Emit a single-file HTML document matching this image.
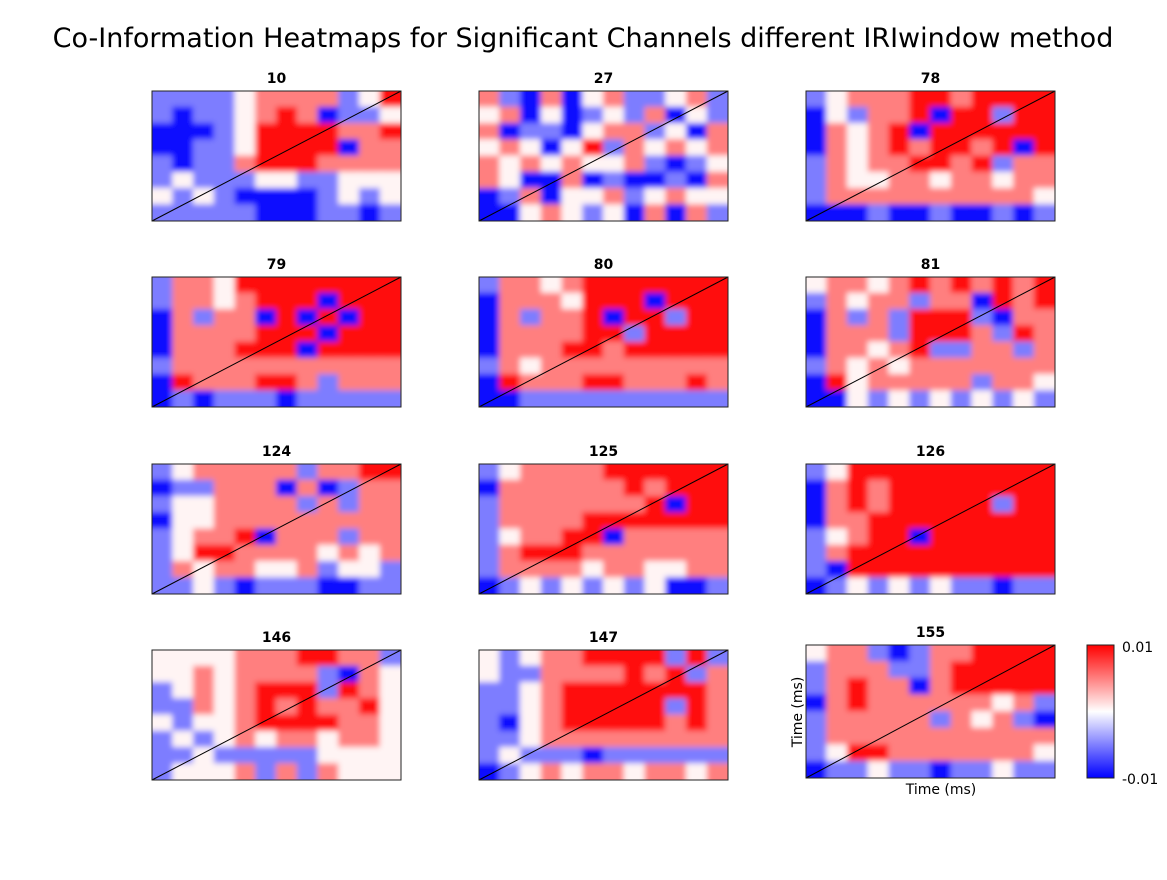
<!DOCTYPE html>
<html><head><meta charset="utf-8">
<style>
body{margin:0;background:#fff;width:1167px;height:875px;overflow:hidden;font-family:"Liberation Sans",sans-serif}
</style></head>
<body>
<svg id="fig" width="1167" height="875" xmlns="http://www.w3.org/2000/svg">
<defs>
<filter id="bl" x="-10%" y="-10%" width="120%" height="120%"><feGaussianBlur stdDeviation="3"/></filter>
<linearGradient id="cbg" x1="0" y1="1" x2="0" y2="0">
<stop offset="0" stop-color="#0000ff"/><stop offset="0.5" stop-color="#ffffff"/><stop offset="1" stop-color="#ff0000"/>
</linearGradient>
</defs>
<text x="583" y="47" text-anchor="middle" font-size="27" font-family="DejaVu Sans, sans-serif">Co-Information Heatmaps for Significant Channels different IRIwindow method</text>
<g id="panels"></g>
<rect x="1087" y="645" width="27" height="133" fill="url(#cbg)" stroke="#222" stroke-width="1"/>
<text x="1122" y="652" font-size="14" font-family="DejaVu Sans, sans-serif">0.01</text>
<text x="1122" y="784" font-size="14" font-family="DejaVu Sans, sans-serif">-0.01</text>
<text x="941" y="794" text-anchor="middle" font-size="14" font-family="DejaVu Sans, sans-serif">Time (ms)</text>
<text x="0" y="0" transform="translate(802,712) rotate(-90)" text-anchor="middle" font-size="14" font-family="DejaVu Sans, sans-serif">Time (ms)</text>
</svg>
<script>
const channels=["10","27","78","79","80","81","124","125","126","146","147","155"];
const p10=[[-1,-1,-1,-1,0,1,1,1,1,-1,0,2],[-1,-2,-1,-1,0,1,2,1,-2,-1,-1,0],[-2,-2,-2,-1,0,2,2,2,2,1,1,2],[-2,-2,-1,-1,0,2,2,2,2,-2,1,1],[-1,-2,-1,-1,1,2,2,2,1,1,1,1],[-1,0,-1,-1,-1,0,0,-1,-1,0,0,0],[0,-1,0,-1,-2,-2,-2,-2,-1,0,-1,0],[-1,-1,-1,-1,-1,-2,-2,-2,-1,-1,-2,-1]];
const p27=[[1,-1,-2,1,-2,0,1,-1,-1,0,1,-1],[0,1,-2,0,-2,-1,0,-1,1,-2,0,-1],[1,-2,-1,-1,-2,0,1,1,-1,0,-2,1],[0,1,0,-2,0,2,-1,1,0,1,0,1],[1,0,1,0,1,0,0,1,-1,-2,-1,0],[1,0,-2,-2,1,-2,-1,-2,-2,-1,-2,1],[-2,-1,1,-2,0,0,1,-1,0,1,0,0],[-2,-2,0,1,0,-1,0,-2,1,-2,1,-1]];
const p78=[[-1,0,1,1,1,2,2,1,2,2,2,2],[-2,0,-1,1,1,2,-2,2,2,-1,2,2],[-2,1,0,1,2,-2,2,2,2,2,2,2],[-2,1,0,1,2,1,2,2,1,2,-2,2],[-1,1,0,1,1,2,2,1,2,-1,1,1],[-1,1,0,0,1,1,0,1,1,0,1,1],[-1,1,1,1,1,1,1,1,1,1,1,0],[-2,-2,-2,-1,-2,-2,-1,-2,-2,-1,-2,-1]];
const p79=[[-1,1,1,0,2,2,2,2,2,2,2,2],[-1,1,1,0,1,2,2,2,-2,2,2,2],[-2,1,-1,1,1,-2,2,-2,2,-2,2,2],[-2,1,1,1,1,2,2,2,-2,2,2,2],[-2,1,1,1,2,2,2,-2,2,2,2,2],[-1,1,1,1,1,1,1,1,1,1,1,1],[-2,2,1,1,1,2,2,1,-1,1,1,1],[-2,-1,-2,-1,-1,-1,-2,-1,-1,-1,-1,-1]];
const p80=[[-1,1,1,0,1,2,2,2,2,2,2,2],[-2,1,1,1,0,2,2,2,-2,2,2,2],[-2,1,-1,1,1,2,-2,2,2,-1,2,2],[-2,1,1,1,1,2,2,-1,2,2,2,2],[-2,1,1,1,2,2,1,2,2,2,2,2],[-1,1,0,1,1,1,1,1,1,1,1,1],[-2,2,1,1,1,2,2,1,1,1,2,1],[-2,-2,-1,-1,-1,-1,-1,-1,-1,-1,-1,-1]];
const p81=[[0,1,1,0,1,2,1,2,1,2,1,2],[-1,1,0,1,1,-1,1,1,-2,2,1,2],[-2,1,-1,1,-1,2,2,2,-1,-2,1,1],[-2,1,1,1,-1,2,2,2,1,-1,2,1],[-2,1,1,0,1,2,-1,-1,1,1,-1,1],[-1,1,0,1,0,1,1,1,1,1,1,1],[-2,2,0,1,1,1,1,1,-1,1,1,0],[-2,-2,0,-1,0,-1,0,-1,0,-1,0,-1]];
const p124=[[-1,0,1,1,1,1,1,-1,1,1,2,2],[-2,-1,-1,1,1,1,-2,1,-2,-1,1,1],[-1,0,0,1,1,1,1,-1,1,-1,1,1],[-2,0,0,1,1,1,1,1,1,1,1,1],[-1,0,1,1,2,-2,1,1,1,-1,1,1],[-1,0,2,2,1,1,1,1,0,1,0,1],[-1,1,0,1,1,0,0,1,-1,0,0,-1],[-1,-1,0,-1,-2,-1,-1,-1,-2,-2,-1,-1]];
const p125=[[-1,0,1,1,1,1,2,2,2,2,2,2],[-2,1,1,1,1,1,1,2,1,2,2,2],[-1,1,1,1,1,1,1,1,2,-2,2,2],[-1,1,1,1,1,2,2,2,2,2,2,2],[-1,0,1,1,2,2,-2,1,1,1,1,1],[-1,1,2,2,2,1,1,1,1,1,1,1],[-1,1,1,1,1,0,1,1,0,0,1,1],[-2,-1,0,-1,0,-1,0,-1,0,-2,-2,-1]];
const p126=[[-1,0,2,2,2,2,2,2,2,2,2,2],[-2,1,2,1,2,2,2,2,2,2,2,2],[-2,1,2,1,2,2,2,2,2,-1,2,2],[-2,1,1,2,2,2,2,2,2,2,2,2],[-1,0,1,2,2,-2,2,2,2,2,2,2],[-1,1,2,2,2,2,2,2,2,2,2,2],[-1,-2,2,2,2,2,2,2,2,2,2,2],[-2,-1,0,-1,0,-1,0,-1,-1,-2,-1,-1]];
const p146=[[0,0,0,0,1,1,1,2,2,1,1,-1],[0,0,1,0,1,1,1,1,-1,-2,1,0],[-1,0,1,0,1,2,2,2,-1,2,1,0],[-1,-1,1,0,1,2,1,2,1,1,2,0],[0,-1,0,0,1,2,2,2,2,1,1,0],[-1,0,-1,0,1,0,1,1,0,1,1,0],[-1,-1,0,-1,-1,-1,-1,-1,0,0,0,0],[-1,0,0,0,1,-1,1,-1,1,0,0,0]];
const p147=[[0,-1,0,1,1,2,2,2,2,-1,2,-1],[0,-1,-1,1,1,1,1,2,1,2,-1,1],[-1,-1,0,1,2,2,2,2,2,2,2,1],[-1,-1,0,1,2,2,2,2,2,-1,2,1],[-1,-2,0,1,2,2,2,2,2,1,2,1],[-1,-1,0,1,1,1,1,1,1,1,1,1],[-1,0,-1,-1,-1,-2,-1,-1,-1,-1,-1,-1],[-2,-1,0,1,0,1,1,0,1,1,0,1]];
const p155=[[0,1,1,-1,-2,-1,1,1,2,2,2,2],[-1,1,1,1,-1,-1,1,2,2,2,2,2],[-1,1,2,1,1,-2,1,2,2,2,2,2],[-2,1,2,1,1,1,1,1,1,0,1,-1],[-1,1,1,1,1,1,-1,1,0,1,-1,-2],[-1,1,1,1,1,1,1,1,1,1,1,1],[-1,0,2,2,1,1,1,1,1,1,1,0],[-2,-1,-1,0,-1,-1,-2,-1,-1,0,-1,-1]];
const grids=[p10,p27,p78,p79,p80,p81,p124,p125,p126,p146,p147,p155];

const NS="http://www.w3.org/2000/svg";
const colX=[152,479,806], rowY=[91,277,464,650], PW=249, PH=130;
function color(v){
  const t=Math.max(-2,Math.min(2,v))/2;
  if(t>=0){const g=Math.round(244-(244-10)*t);return `rgb(255,${g},${g})`;}
  const a=-t;const g=Math.round(240-(240-10)*a);return `rgb(${g},${g},255)`;
}
const root=document.getElementById('panels');
grids.forEach((g,i)=>{
  const c=i%3, r=Math.floor(i/3);
  let x0=colX[c], y0=rowY[r], w=PW, h=PH;
  if(i===11){y0=645;h=133;}
  const grp=document.createElementNS(NS,'g');
  
  
  const title=document.createElementNS(NS,'text');
  
  
  title.setAttribute('x',x0+w/2);title.setAttribute('y',y0-8);
  title.setAttribute('text-anchor','middle');title.setAttribute('font-size','14');
  title.setAttribute('font-weight','bold');title.setAttribute('font-family','DejaVu Sans, sans-serif');
  title.textContent=channels[i];grp.appendChild(title);
  const svg=document.createElementNS(NS,'svg');
  svg.setAttribute('x',x0);svg.setAttribute('y',y0);svg.setAttribute('width',w);svg.setAttribute('height',h);
  svg.setAttribute('overflow','hidden');
  const cells=document.createElementNS(NS,'g');cells.setAttribute('filter','url(#bl)');
  const nr=g.length,nc=g[0].length,cw=w/nc,ch=h/nr;
  g.forEach((row,ri)=>row.forEach((v,ci)=>{
    const rc=document.createElementNS(NS,'rect');
    
    
    const ex0=ci===0?-8:0, ey0=ri===0?-8:0;
    const ex1=ci===nc-1?8:0, ey1=ri===nr-1?8:0;
    rc.setAttribute('x',ci*cw-0.5+ex0);rc.setAttribute('y',ri*ch-0.5+ey0);
    rc.setAttribute('width',cw+1-ex0+ex1);rc.setAttribute('height',ch+1-ey0+ey1);
    rc.setAttribute('fill',color(v));cells.appendChild(rc);
  }));
  svg.appendChild(cells);grp.appendChild(svg);
  const diag=document.createElementNS(NS,'line');
  
  
  diag.setAttribute('x1',x0);diag.setAttribute('y1',y0+h);diag.setAttribute('x2',x0+w);diag.setAttribute('y2',y0);
  diag.setAttribute('stroke','#000');diag.setAttribute('stroke-width','1');grp.appendChild(diag);
  const fr=document.createElementNS(NS,'rect');
  
  
  fr.setAttribute('x',x0);fr.setAttribute('y',y0);fr.setAttribute('width',w);fr.setAttribute('height',h);
  fr.setAttribute('fill','none');fr.setAttribute('stroke','#222');fr.setAttribute('stroke-width','1');
  grp.appendChild(fr);
  root.appendChild(grp);
});
</script>
</body></html>
